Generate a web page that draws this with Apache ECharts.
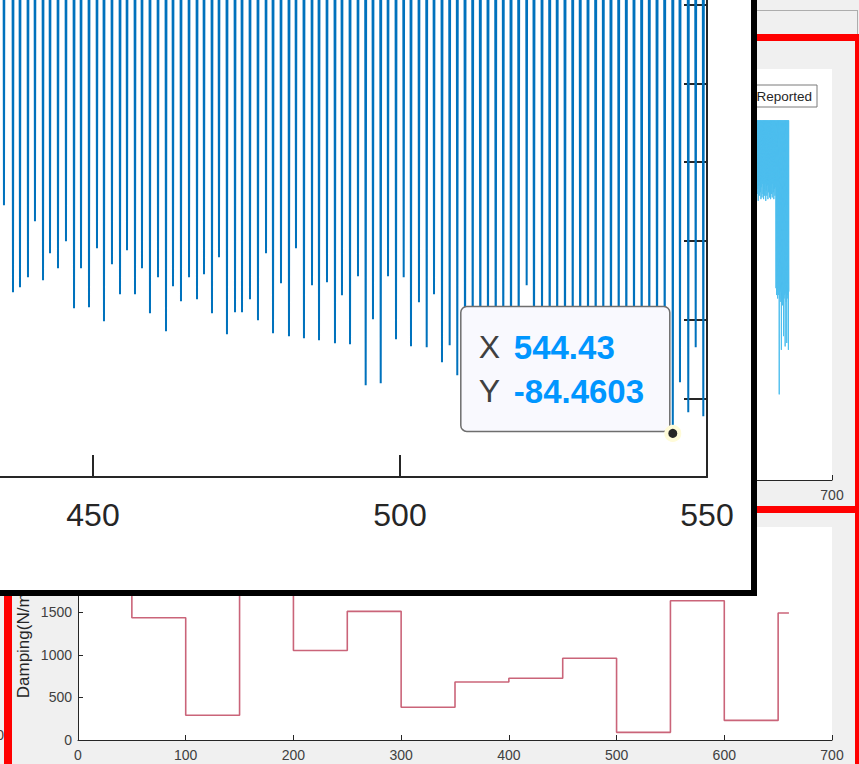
<!DOCTYPE html>
<html><head><meta charset="utf-8">
<script src="https://cdn.jsdelivr.net/npm/echarts@6/dist/echarts.min.js"></script>
<style>html,body{margin:0;padding:0;background:#f0f0f0;overflow:hidden}#c{width:859px;height:764px}</style>
</head><body><div id="c"></div>
<script>
// ---------- DATA ----------
// Main (zoomed) figure: time of each downward spike and its minimum value
const spikeTimes = [435.50, 436.97, 438.11, 439.41, 440.55, 441.86, 443.00, 444.30, 445.60, 446.91,
  448.05, 449.35, 450.65, 451.79, 453.09, 454.40, 455.54, 456.84, 457.98, 459.28,
  460.59, 461.89, 463.03, 464.33, 465.64, 466.94, 468.08, 469.38, 470.52, 471.82,
  473.13, 474.27, 475.57, 476.87, 478.18, 479.32, 480.62, 481.92, 483.06, 484.36,
  485.67, 486.81, 488.11, 489.41, 490.55, 491.86, 493.16, 494.41, 495.60, 496.86,
  498.05, 499.35, 500.60, 501.79, 503.09, 504.35, 505.54, 506.84, 508.09, 509.33,
  510.59, 511.84, 513.08, 514.33, 515.59, 516.82, 518.08, 519.33, 520.63, 521.82,
  523.13, 524.38, 525.60, 526.87, 528.13, 529.35, 530.62, 531.87, 533.11, 534.36,
  535.62, 536.86, 538.11, 539.36, 540.60, 541.86, 543.11, 544.43, 545.60, 546.95,
  548.16, 549.40];
const spikeMinima = [-55.48, -66.53, -65.90, -64.63, -57.51, -65.01, -61.58, -63.48, -60.05, -68.56,
  -63.48, -68.44, -60.94, -70.22, -62.97, -66.79, -61.19, -66.79, -63.48, -69.20,
  -64.63, -71.49, -65.77, -67.67, -64.63, -67.42, -64.24, -69.20, -62.08, -71.87,
  -69.07, -69.07, -67.42, -70.09, -61.58, -71.74, -65.39, -72.12, -60.94, -72.38,
  -65.64, -72.63, -65.26, -73.01, -66.91, -73.14, -64.50, -78.35, -69.96, -78.09,
  -64.50, -72.50, -64.63, -73.39, -67.80, -73.52, -66.79, -75.43, -73.27, -77.08,
  -81.1, -76.5, -82.4, -77.8, -81.6, -75.9, -83.0, -78.7, -65.64, -80.3,
  -74.6, -82.1, -77.2, -81.5, -75.8, -82.7, -79.1, -81.9, -76.4, -83.2,
  -78.3, -82.6, -77.9, -83.4, -80.6, -82.8, -79.4, -84.4603, -77.97, -81.78,
  -73.52, -82.29];
const cyclePeak = 40;            // signal peak between spikes (above the visible range)
const mainXTicks = [450, 500, 550];
const mainYTicks = [-80, -70, -60, -50, -40, -30];
const tipX = 544.43, tipY = -84.4603;

// Upper-right "Reported" plot (visible part only)
const rptX = [628, 628.5, 629, 629.5, 630, 630.5, 631, 631.5, 632, 632.5,
  633, 633.5, 634, 634.5, 635, 635.5, 636, 636.5, 637, 637.5,
  638, 638.5, 639, 639.5, 640, 640.5, 641, 641.5, 642, 642.5,
  643, 643.5, 644, 644.5, 645, 645.5, 646, 646.5, 647, 647.5,
  648, 648.5, 649, 649.5, 650, 650.5, 651, 651.5, 652, 652.5,
  653, 653.5, 654, 654.5, 655, 655.5, 656, 656.5, 657, 657.5,
  658, 658.5, 659, 659.5, 660];
const rptLows = [-15.5, -17, -14, -18, -13.5, -16.5, -15, -18.5, -14, -17,
  -13, -16, -18, -14.5, -17.5, -13.5, -16.5, -18, -15, -17,
  -13.5, -18.5, -15.5, -17, -14, -18, -16, -13.5, -17.5, -15,
  -18, -14, -16.5, -17.5, -13.5, -16, -18, -15, -17, -14.5,
  -44, -46, -45, -47, -44.5, -46, -75, -47, -45, -48,
  -62, -46, -49, -45, -58, -47, -46, -61, -45.5, -48,
  -60, -46, -47, -62, -45];
const rptPeak = 5;
const rptVisibleTicks = [700];

// Lower plot: damping steps (value holds from stepX[i] to stepX[i+1])
const stepX   = [0, 50, 100, 150, 200, 250, 300, 350, 400, 450, 500, 550, 600, 650, 660];
const damping = [2050, 1435, 290, 1980, 1050, 1510, 385, 680, 725, 960, 90, 1635, 230, 1490, 1490];
const lowerXTicks = [0, 100, 200, 300, 400, 500, 600, 700];
const lowerYVisibleTicks = [0, 500, 1000, 1500];

// ---------- CHART ----------
const FONT = '"Liberation Sans", Arial, Helvetica, sans-serif';
const chart = echarts.init(document.getElementById('c'), null, {renderer: 'svg', width: 859, height: 764});

const spikeHalf = 0.18;
const mainData = [];
spikeTimes.forEach((t, i) => {
  mainData.push([t - spikeHalf, cyclePeak], [t, spikeMinima[i]], [t + spikeHalf, cyclePeak]);
});
const rptData = [];
rptX.forEach((x, i) => { rptData.push([x - 0.25, rptPeak], [x, rptLows[i]]); });
const dampData = stepX.map((x, i) => [x, damping[i]]);

const smallAxisX = (gi, shown) => ({
  gridIndex: gi, type: 'value', min: lowerXTicks[0], max: lowerXTicks[lowerXTicks.length - 1], interval: 100, zlevel: 0,
  axisLine: {show: true, onZero: false, lineStyle: {color: '#262626', width: 1}},
  axisTick: {show: true, inside: true, length: 5, lineStyle: {color: '#262626'}},
  axisLabel: {fontSize: 14, color: '#404040', fontFamily: FONT, margin: 8,
    formatter: v => (shown.indexOf(v) >= 0 ? String(v) : '')},
  splitLine: {show: false}
});

const bgGraphics = [
  {type: 'line', zlevel: 0, z: 5, shape: {x1: 700, y1: 10.5, x2: 857.5, y2: 10.5}, style: {stroke: '#adadad', lineWidth: 1}},
  {type: 'line', zlevel: 0, z: 5, shape: {x1: 857.5, y1: 10, x2: 857.5, y2: 36}, style: {stroke: '#adadad', lineWidth: 1}},
  {type: 'rect', zlevel: 0, z: 6, shape: {x: 700, y: 34, width: 170, height: 7}, style: {fill: '#ff0000'}},
  {type: 'rect', zlevel: 0, z: 6, shape: {x: 855, y: 34, width: 10, height: 740}, style: {fill: '#ff0000'}},
  {type: 'rect', zlevel: 0, z: 6, shape: {x: 4, y: 506, width: 860, height: 7}, style: {fill: '#ff0000'}},
  {type: 'rect', zlevel: 0, z: 6, shape: {x: 4, y: 506, width: 8, height: 270}, style: {fill: '#ff0000'}},
  {type: 'text', zlevel: 0, z: 6, x: 23, y: 643, rotation: Math.PI / 2,
   style: {text: 'Damping(N/m)', fontSize: 17, fontFamily: FONT, fill: '#262626', align: 'center', verticalAlign: 'middle'}},
  {type: 'text', zlevel: 0, z: 6, x: 4, y: 735,
   style: {text: '0', fontSize: 14, fontFamily: FONT, fill: '#404040', align: 'right', verticalAlign: 'middle'}},
  {type: 'rect', zlevel: 1, z: -10, shape: {x: -10, y: -10, width: 764, height: 603},
   style: {fill: '#ffffff', stroke: '#000000', lineWidth: 6}}
];

const option = {
  animation: false,
  backgroundColor: '#f0f0f0',
  textStyle: {fontFamily: FONT},
  legend: {
    data: ['Reported'], zlevel: 0, z: 8, right: 42, top: 85, selectedMode: false,
    backgroundColor: '#ffffff', borderColor: '#7a7a7a', borderWidth: 1, borderRadius: 0,
    padding: [4, 5, 4, 5], itemWidth: 24, itemHeight: 10,
    textStyle: {fontSize: 13.5, color: '#262626', fontFamily: FONT}
  },
  grid: [
    {left: -214, right: 152, top: -73.9, bottom: 287, zlevel: 1, show: false, outerBoundsMode: 'none', containLabel: false},
    {left: 78, right: 27, top: 69, bottom: 284, zlevel: 0, show: true, backgroundColor: '#ffffff', borderWidth: 0, outerBoundsMode: 'none', containLabel: false},
    {left: 78, right: 27, top: 527, bottom: 24, zlevel: 0, show: true, backgroundColor: '#ffffff', borderWidth: 0, outerBoundsMode: 'none', containLabel: false}
  ],
  xAxis: [
    {gridIndex: 0, type: 'value', min: 400, max: mainXTicks[mainXTicks.length - 1], interval: 50, zlevel: 1,
     axisLine: {show: true, onZero: false, lineStyle: {color: '#262626', width: 2}},
     axisTick: {show: true, inside: true, length: 22, lineStyle: {color: '#262626', width: 2}},
     axisLabel: {fontSize: 32, color: '#262626', fontFamily: FONT, margin: 22,
       formatter: v => (mainXTicks.indexOf(v) >= 0 ? String(v) : '')},
     splitLine: {show: false}},
    smallAxisX(1, rptVisibleTicks),
    smallAxisX(2, lowerXTicks)
  ],
  yAxis: [
    {gridIndex: 0, type: 'value', position: 'right', min: -90, max: -20, interval: 10, zlevel: 1,
     axisLine: {show: true, onZero: false, lineStyle: {color: '#262626', width: 2}},
     axisTick: {show: true, inside: true, length: 23, lineStyle: {color: '#262626', width: 2}},
     axisLabel: {show: false}, splitLine: {show: false}},
    {gridIndex: 1, type: 'value', min: -100, max: 20, show: false, zlevel: 0},
    {gridIndex: 2, type: 'value', min: 0, max: 2500, interval: 500, zlevel: 0,
     axisLine: {show: true, onZero: false, lineStyle: {color: '#262626', width: 1}},
     axisTick: {show: true, inside: true, length: 5, lineStyle: {color: '#262626'}},
     axisLabel: {fontSize: 14, color: '#404040', fontFamily: FONT, margin: 6,
       formatter: v => (lowerYVisibleTicks.indexOf(v) >= 0 ? String(v) : '')},
     splitLine: {show: false}}
  ],
  series: [
    {name: 'Reported', type: 'line', xAxisIndex: 1, yAxisIndex: 1, zlevel: 0, z: 3,
     symbol: 'none', data: rptData, lineStyle: {color: '#4DBEEE', width: 1}, itemStyle: {color: '#4DBEEE'}},
    {name: 'Damping', type: 'line', step: 'end', xAxisIndex: 2, yAxisIndex: 2, zlevel: 0, z: 3,
     symbol: 'none', data: dampData, lineStyle: {color: '#b8304c', width: 1.6, opacity: 0.75}},
    {name: 'Zoomed', type: 'line', xAxisIndex: 0, yAxisIndex: 0, zlevel: 1, z: 3,
     symbol: 'none', data: mainData, lineStyle: {color: '#0072BD', width: 2}}
  ],
  graphic: bgGraphics
};
chart.setOption(option);

// ---------- DATA TIP (placed from the data point through the axes) ----------
const p = chart.convertToPixel({xAxisIndex: 0, yAxisIndex: 0}, [tipX, tipY]);
const bx = p[0] - 212, by = p[1] - 127;
const tipGraphics = [
  {type: 'rect', zlevel: 1, z: 50, shape: {x: bx, y: by, width: 209, height: 125, r: 6},
   style: {fill: '#f9f9fe', stroke: '#6e6e6e', lineWidth: 1.5}},
  {type: 'text', zlevel: 1, z: 51, x: bx + 18, y: by + 41,
   style: {text: 'X', fontSize: 32, fontFamily: FONT, fill: '#404040', verticalAlign: 'middle'}},
  {type: 'text', zlevel: 1, z: 51, x: bx + 53, y: by + 41,
   style: {text: String(tipX), fontSize: 33, fontWeight: 'bold', fontFamily: FONT, fill: '#0096ff', verticalAlign: 'middle'}},
  {type: 'text', zlevel: 1, z: 51, x: bx + 18, y: by + 85,
   style: {text: 'Y', fontSize: 32, fontFamily: FONT, fill: '#404040', verticalAlign: 'middle'}},
  {type: 'text', zlevel: 1, z: 51, x: bx + 53, y: by + 85,
   style: {text: String(tipY), fontSize: 33, fontWeight: 'bold', fontFamily: FONT, fill: '#0096ff', verticalAlign: 'middle'}},
  {type: 'circle', zlevel: 1, z: 52, shape: {cx: p[0], cy: p[1], r: 6.5},
   style: {fill: '#262626', stroke: '#fffbd8', lineWidth: 4}}
];
chart.setOption({graphic: bgGraphics.concat(tipGraphics)}, {replaceMerge: ['graphic']});
</script></body></html>
